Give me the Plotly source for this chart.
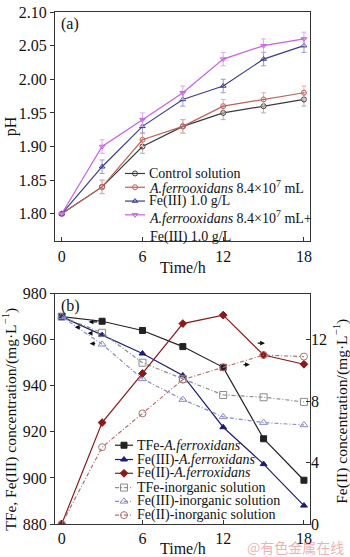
import plotly.graph_objects as go

# ---------- data ----------
time = [0, 3, 6, 9, 12, 15, 18]

# panel (a) pH
ph_control = [1.80, 1.84, 1.90, 1.93, 1.95, 1.96, 1.97]
ph_af = [1.80, 1.84, 1.91, 1.93, 1.96, 1.97, 1.98]
ph_fe3 = [1.80, 1.87, 1.93, 1.97, 1.99, 2.03, 2.05]
ph_af_fe3 = [1.80, 1.90, 1.94, 1.98, 2.03, 2.05, 2.06]
ph_err = [0.0, 0.01, 0.01, 0.01, 0.01, 0.01, 0.01]

# panel (b) concentrations (mg/L)
tfe_af = [970, 968, 964, 957, 948, 917, 899]
fe3_af = [970, 962, 954, 944.5, 922, 906, 888]
fe2_af = [0, 6.6, 9.8, 13.05, 13.6, 11.0, 10.4]
tfe_in = [970, 963, 950, 943, 936, 935, 933]
fe3_in = [970, 958, 943, 934, 926.5, 924, 923]
fe2_in = [0, 5.0, 7.2, 9.4, 10.2, 11.0, 10.9]

x_ticks = [0, 6, 12, 18]
ph_ticks = [1.80, 1.85, 1.90, 1.95, 2.00, 2.05, 2.10]
conc_ticks = [880, 900, 920, 940, 960, 980]
fe2_ticks = [0, 4, 8, 12]

top_names = ["Control solution",
             "<i>A.ferrooxidans</i> 8.4×10<sup>7</sup> mL",
             "Fe(III) 1.0 g/L",
             "<i>A.ferrooxidans</i> 8.4×10<sup>7</sup> mL+<br>Fe(III) 1.0 g/L"]
bot_names = ["TFe-<i>A.ferroxidans</i>", "Fe(III)-<i>A.ferroxidans</i>",
             "Fe(II)-<i>A.ferroxidans</i>", "TFe-inorganic solution",
             "Fe(III)-inorganic solution", "Fe(II)-inorganic solution"]

SERIF = "Liberation Serif, Times New Roman, serif"
W, H = 350, 557
ML, MR, MT, MB = 55, 40, 4, 33
PW, PH = W - ML - MR, H - MT - MB

fig = go.Figure()

# ---------- panel (a) ----------
top_styles = [
    (ph_control, "#3a3a3a", "#b0b0b0", "circle-open"),
    (ph_af, "#c0605a", "#e8b0aa", "circle-open"),
    (ph_fe3, "#3c3c8c", "#9a9ad6", "triangle-up-open"),
    (ph_af_fe3, "#c860e0", "#dca8ec", "triangle-down-open"),
]
for name, (vals, col, ecol, sym) in zip(top_names, top_styles):
    fig.add_trace(go.Scatter(
        x=time, y=vals, name=name, mode="lines+markers", showlegend=False,
        line=dict(color=col, width=1.2),
        marker=dict(symbol=sym, size=5, color=col, line=dict(width=1, color=ecol)),
        error_y=dict(type="data", array=ph_err, color=ecol, thickness=1, width=2.5),
        xaxis="x", yaxis="y",
    ))

# ---------- panel (b) ----------
dd = "4px,2px,1px,2px"
bot_styles = [
    (tfe_af, "#222222", "square", "y2", "solid", 6),
    (fe3_af, "#1c1c78", "triangle-up", "y2", "solid", 6),
    (fe2_af, "#8a1a1a", "diamond", "y3", "solid", 6),
    (tfe_in, "#8c8c8c", "square-open", "y2", dd, 7),
    (fe3_in, "#8a8ac8", "triangle-up-open", "y2", dd, 7),
    (fe2_in, "#b07070", "circle-open", "y3", dd, 7),
]
for name, (vals, col, sym, ya, dash, sz) in zip(bot_names, bot_styles):
    fig.add_trace(go.Scatter(
        x=time, y=vals, name=name, mode="lines+markers", showlegend=False,
        line=dict(color=col, width=1.2, dash=dash),
        marker=dict(symbol=sym, size=sz, color=col, line=dict(width=1, color=col)),
        xaxis="x2", yaxis=ya,
    ))

# ---------- hand-drawn legends (pixel coordinate helper axes) ----------
def legend_block(names, styles, x0, x1, xt, ys, top):
    for name, st, yy in zip(names, styles, ys):
        if top:
            _, col, ecol, sym = st
            dash, sz, mlc = "solid", 5, ecol
        else:
            _, col, sym, _, dash, sz = st
            mlc = col
        fig.add_trace(go.Scatter(
            x=[x0, (x0 + x1) / 2, x1], y=[yy, yy, yy], mode="lines+markers",
            showlegend=False, hoverinfo="skip",
            line=dict(color=col, width=1.2, dash=dash),
            marker=dict(symbol=sym, size=sz, color=col, opacity=[0, 1, 0],
                        line=dict(width=1, color=mlc)),
            xaxis="x3", yaxis="y4",
        ))
        two = "<br>" in name
        fig.add_annotation(text=name, x=xt, y=yy, xref="x3", yref="y4",
                           xanchor="left", yanchor="top" if two else "middle",
                           yshift=9 if two else 0,
                           align="left", showarrow=False,
                           font=dict(family=SERIF, size=14, color="#111"))

legend_block(top_names, top_styles, 125, 145, 147, [168, 182, 196, 210], True)
legend_block(bot_names, bot_styles, 115, 133, 135, [444, 458.5, 472.5, 487, 501, 515], False)

axis_common = dict(
    showline=True, linecolor="#333", linewidth=1.2, mirror=True,
    showgrid=False, zeroline=False,
    tickfont=dict(family=SERIF, size=16, color="#111"),
    ticklen=4, tickcolor="#333",
)

fig.update_layout(
    width=W, height=H,
    margin=dict(l=ML, r=MR, t=MT, b=MB),
    paper_bgcolor="white", plot_bgcolor="rgba(0,0,0,0)",
    font=dict(family=SERIF, color="#111"),
    showlegend=False,
    xaxis=dict(domain=[0, 1], anchor="y", range=[-0.5, 18.45], tickvals=x_ticks,
               ticks="inside", **axis_common),
    yaxis=dict(domain=[0.552, 1], anchor="x", range=[1.759, 2.10],
               tickvals=ph_ticks, tickformat=".2f", ticks="outside", **axis_common),
    xaxis2=dict(domain=[0, 1], anchor="y2", range=[-0.5, 18.45], tickvals=x_ticks,
                ticks="inside", **axis_common),
    yaxis2=dict(domain=[0, 0.45], anchor="x2", range=[880, 980],
                tickvals=conc_ticks, ticks="outside", **axis_common),
    yaxis3=dict(overlaying="y2", anchor="x2", side="right", range=[0, 15],
                tickvals=fe2_ticks, ticks="inside",
                showline=False, showgrid=False, zeroline=False,
                tickfont=dict(family=SERIF, size=16, color="#111"),
                ticklen=4, tickcolor="#333"),
    xaxis3=dict(domain=[0, 1], anchor="y4", range=[ML, W - MR], visible=False, fixedrange=True),
    yaxis4=dict(domain=[0, 1], anchor="x3", range=[H - MB, MT], visible=False, fixedrange=True),
)

def px_text(text, x, y, size=16, angle=0, family=SERIF, color="#111", xanchor="center"):
    fig.add_annotation(text=text, x=(x - ML) / PW, y=(H - MB - y) / PH,
                       xref="paper", yref="paper", textangle=angle,
                       xanchor=xanchor, yanchor="middle", showarrow=False,
                       font=dict(family=family, size=size, color=color))

# axis titles
px_text("Time/h", 183, 263)
px_text("Time/h", 183, 549)
px_text("pH", 11, 120, angle=-90)
px_text("TFe, Fe(III) concentration/(mg·L<sup>−1</sup>)", 10, 418, size=15.5, angle=-90)
px_text("Fe(II) concentration/(mg·L<sup>−1</sup>)", 341, 410, size=15.5, angle=-90)

# panel labels
px_text("(a)", 59, 16, xanchor="left")
px_text("(b)", 59, 303, xanchor="left")

# indicator arrows (left axis / right axis)
left_arrows = [(2.0, 2.75, 967.7), (0.97, 1.5, 965.4), (1.93, 2.35, 962.8), (2.08, 2.6, 958.3)]
for xh, xt, yy in left_arrows:
    fig.add_annotation(x=xh, y=yy, ax=xt, ay=yy, xref="x2", yref="y2", axref="x2", ayref="y2",
                       showarrow=True, arrowhead=2, arrowsize=0.8, arrowwidth=1.2,
                       arrowcolor="#111", text="")
right_arrows = [(15.1, 14.45, 958.5), (13.98, 13.4, 949.2)]
for xh, xt, yy in right_arrows:
    fig.add_annotation(x=xh, y=yy, ax=xt, ay=yy, xref="x2", yref="y2", axref="x2", ayref="y2",
                       showarrow=True, arrowhead=2, arrowsize=0.8, arrowwidth=1.2,
                       arrowcolor="#111", text="")

# watermark
px_text("@有色金属在线", 346, 547, size=14, family="Noto Sans CJK SC",
        color="rgba(225,110,110,0.55)", xanchor="right")

fig.write_html("out.html")
